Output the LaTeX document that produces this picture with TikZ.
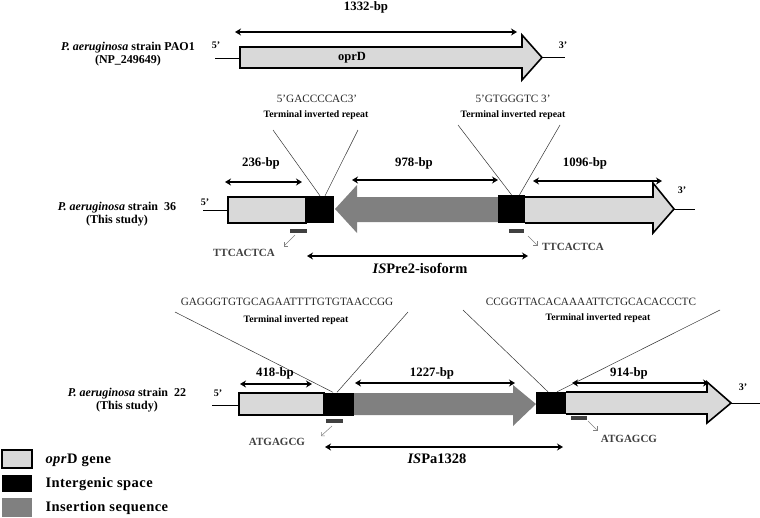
\documentclass[tikz,border=0pt]{standalone}
\usepackage{fontspec}
\setmainfont{Liberation Serif}
\usetikzlibrary{arrows.meta}

\begin{document}
\begin{tikzpicture}[x=1pt,y=-1pt,
    genepart/.style={fill=gray!30,draw=black,line width=1.6pt,line join=miter},
    ispart/.style={fill=black!50},
    igs/.style={fill=black},
    bparrow/.style={line width=1.4pt,{Stealth[length=6pt,width=7pt]}-{Stealth[length=6pt,width=7pt]}},
    bplabel/.style={font=\fontsize{12.8}{12.8}\selectfont\bfseries},
    strainlabel/.style={font=\fontsize{12}{13.5}\selectfont\bfseries,align=center},
    seqlabel/.style={font=\fontsize{11.2}{11.2}\selectfont,text=black!85},
    tirlabel/.style={font=\fontsize{9.8}{9.8}\selectfont\bfseries},
    tirline/.style={line width=0.5pt,black!80},
    primer/.style={fill=black!75},
    primerarrow/.style={line width=0.5pt,gray,-{Straight Barb[length=2.5pt]}},
    primerseq/.style={font=\fontsize{11}{11}\selectfont\bfseries,text=black!75},
    endlabel/.style={font=\fontsize{10}{10}\selectfont\bfseries},
    islabel/.style={font=\fontsize{14.5}{14.5}\selectfont\bfseries},
    legendtext/.style={font=\fontsize{14.5}{15}\selectfont\bfseries\addfontfeature{LetterSpace=3},anchor=west}
  ]
  \useasboundingbox (0,0) rectangle (760,517);

  % PAO1 reference gene
  \node[bplabel] (len1332) at (366,7) {1332-bp};
  \coordinate (pA) at (235,32);
  \coordinate (pB) at (517,32);
  \draw[bparrow] (pA) -- (pB);
  \node[strainlabel] (strainPAO1) at (128,54) {\textit{P. aeruginosa} strain PAO1\\(NP\_249649)};
  \node[endlabel] (fivePAO1) at (216,45) {5’};
  \node[endlabel] (threePAO1) at (563,45) {3’};
  \draw[line width=0.8pt] (215,58) -- (240,58);
  \draw[genepart] (240,47) -- (522,47) -- (522,35) -- (542,57.5) -- (522,80) -- (522,68) -- (240,68) -- cycle;
  \draw[line width=0.8pt] (542,57.5) -- (565,57.5);
  \node[font=\fontsize{12.5}{12.5}\selectfont\bfseries] (oprD) at (352,58) {oprD};

  % terminal inverted repeats of ISPre2
  \node[seqlabel] (tirA) at (317,99) {5’GACCCCAC3’};
  \node[tirlabel] (tirAname) at (316,115) {Terminal inverted repeat};
  \node[seqlabel] (tirB) at (513,99) {5’GTGGGTC 3’};
  \node[tirlabel] (tirBname) at (513,115) {Terminal inverted repeat};

  % strain 36
  \node[strainlabel] (strain36) at (117,214) {\textit{P. aeruginosa} strain\ \ 36\\(This study)};
  \node[endlabel] (five36) at (205,202) {5’};
  \node[endlabel] (three36) at (682,190) {3’};
  \draw[line width=0.8pt] (203,210) -- (228,210);
  \draw[genepart] (228,197) rectangle (306,223);
  \fill[ispart] (335,209) -- (357,185) -- (357,197) -- (498,197) -- (498,222) -- (357,222) -- (357,233) -- cycle;
  \draw[genepart] (525,197) -- (653,197) -- (653,183) -- (674,209) -- (653,233) -- (653,223) -- (525,223);
  \draw[line width=0.8pt] (674,209) -- (695,209);
  \node[igs,minimum width=28pt,minimum height=27pt,inner sep=0pt] (ig36a) at (320,209.5) {};
  \node[igs,minimum width=27pt,minimum height=28pt,inner sep=0pt] (ig36b) at (511.5,209) {};
  \draw[tirline] (273,130) -- ([xshift=0pt]ig36a.north);
  \draw[tirline] (358,130) -- ([xshift=5pt]ig36a.north);
  \draw[tirline] (458,125) -- ([xshift=0pt]ig36b.north);
  \draw[tirline] (560,125) -- ([xshift=8pt]ig36b.north);

  \coordinate (s36a) at (225,182);
  \coordinate (s36b) at (302,182);
  \draw[bparrow] (s36a) -- (s36b);
  \node[bplabel] (len236) at (261,163) {236-bp};
  \coordinate (s36c) at (352,180);
  \coordinate (s36d) at (498,180);
  \draw[bparrow] (s36c) -- (s36d);
  \node[bplabel] (len978) at (414,163) {978-bp};
  \coordinate (s36e) at (533,181);
  \coordinate (s36f) at (662,181);
  \draw[bparrow] (s36e) -- (s36f);
  \node[bplabel] (len1096) at (585,163) {1096-bp};

  \fill[primer] (290,229) rectangle (307,233);
  \fill[primer] (509,229) rectangle (524,233);
  \node[primerseq] (dr36a) at (244,253) {TTCACTCA};
  \node[primerseq] (dr36b) at (573,247) {TTCACTCA};
  \draw[primerarrow] (295,235) -- (284,246);
  \draw[primerarrow] (528,236) -- (537,245);

  \coordinate (isA) at (307,256);
  \coordinate (isB) at (528,256);
  \draw[bparrow] (isA) -- (isB);
  \node[islabel] (isPre2) at (420,268) {\textit{IS}Pre2-isoform};

  % terminal inverted repeats of ISPa1328
  \node[seqlabel] (tirC) at (287,302) {GAGGGTGTGCAGAATTTTGTGTAACCGG};
  \node[tirlabel] (tirCname) at (296,320) {Terminal inverted repeat};
  \node[seqlabel] (tirD) at (591,302) {CCGGTTACACAAAATTCTGCACACCCTC};
  \node[tirlabel] (tirDname) at (598,318) {Terminal inverted repeat};

  % strain 22
  \node[strainlabel] (strain22) at (127,400) {\textit{P. aeruginosa} strain\ \ 22\\(This study)};
  \node[endlabel] (five22) at (218,393) {5’};
  \node[endlabel] (three22) at (743,387) {3’};
  \draw[line width=0.8pt] (212,405) -- (239,405);
  \draw[genepart] (239,393) rectangle (324,415);
  \fill[ispart] (354,393) -- (513,393) -- (513,385) -- (536,404) -- (513,426) -- (513,415) -- (354,415) -- cycle;
  \draw[genepart] (566,392) -- (707,392) -- (707,382) -- (731,403) -- (707,423) -- (707,414) -- (566,414);
  \draw[line width=0.8pt] (731,403) -- (760,403);
  \node[igs,minimum width=30pt,minimum height=23pt,inner sep=0pt] (ig22a) at (339,404) {};
  \node[igs,minimum width=30pt,minimum height=22pt,inner sep=0pt] (ig22b) at (551,403) {};
  \draw[tirline] (175,312) -- ([xshift=-6pt]ig22a.north);
  \draw[tirline] (408,312) -- ([xshift=-2pt]ig22a.north);
  \draw[tirline] (463,310) -- ([xshift=-3pt]ig22b.north);
  \draw[tirline] (720,310) -- ([xshift=6pt]ig22b.north);

  \coordinate (s22a) at (240,384);
  \coordinate (s22b) at (312,384);
  \draw[bparrow] (s22a) -- (s22b);
  \node[bplabel] (len418) at (275,373) {418-bp};
  \coordinate (s22c) at (355,383);
  \coordinate (s22d) at (515,383);
  \draw[bparrow] (s22c) -- (s22d);
  \node[bplabel] (len1227) at (432,373) {1227-bp};
  \coordinate (s22e) at (572,383);
  \coordinate (s22f) at (709,383);
  \draw[bparrow] (s22e) -- (s22f);
  \node[bplabel] (len914) at (629,373) {914-bp};

  \fill[primer] (326,419) rectangle (343,423);
  \fill[primer] (571,416) rectangle (587,420);
  \node[primerseq] (dr22a) at (277,442) {ATGAGCG};
  \node[primerseq] (dr22b) at (629,439) {ATGAGCG};
  \draw[primerarrow] (332,426) -- (321,436);
  \draw[primerarrow] (588,421) -- (597,430);

  \coordinate (isC) at (325,447);
  \coordinate (isD) at (563,447);
  \draw[bparrow] (isC) -- (isD);
  \node[islabel] (isPa) at (437,459) {\textit{IS}Pa1328};

  % legend
  \draw[fill=gray!30,line width=1.2pt] (2,450) rectangle (32,468);
  \node[legendtext] (legGene) at (42,460) {\textit{opr}D gene};
  \fill[igs] (2,475) rectangle (32,492);
  \node[legendtext] (legIgs) at (42,484) {Intergenic space};
  \fill[ispart] (2,498) rectangle (32,517);
  \node[legendtext] (legIs) at (42,508) {Insertion sequence};
\end{tikzpicture}
\end{document}
